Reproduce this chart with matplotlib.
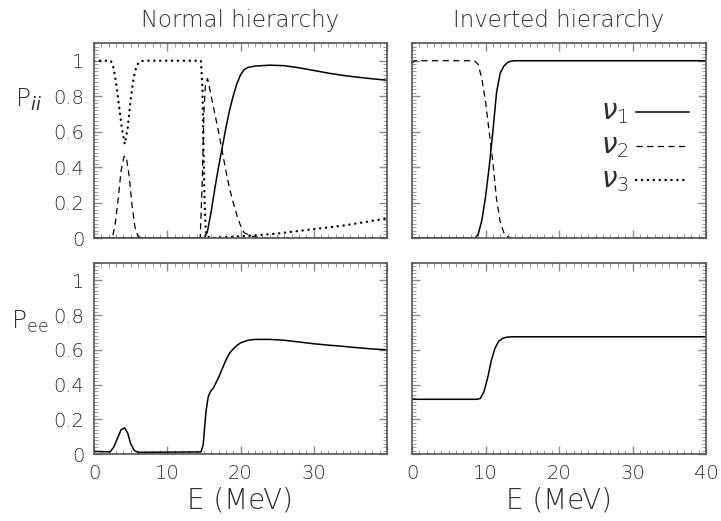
import matplotlib

matplotlib.use("Agg")
import matplotlib.pyplot as plt
from matplotlib.ticker import MultipleLocator, FixedLocator

# --- data (E in MeV) ---
nh_nu1_e = [0, 15.1, 15.5, 16.0, 16.5, 17.0, 17.5, 18.0, 18.5, 19.0, 19.5, 20.0, 20.5, 21.0,
            22, 24, 26, 28, 30, 32, 34, 36, 38, 40]
nh_nu1_p = [0, 0, 0.04, 0.15, 0.28, 0.40, 0.51, 0.62, 0.72, 0.80, 0.87, 0.92, 0.95, 0.962,
            0.97, 0.975, 0.972, 0.96, 0.945, 0.93, 0.917, 0.907, 0.898, 0.89]

nh_nu2_e = [0, 2.5, 2.9, 3.3, 3.7, 4.1, 4.4, 4.8, 5.2, 5.6, 6.0, 6.5,
            14.5, 14.8, 15.0, 15.2, 15.5, 16.0, 16.5, 17.0, 17.5, 18.0, 18.5, 19.0,
            19.5, 20.0, 20.5, 21.5, 23, 40]
nh_nu2_p = [0, 0, 0.08, 0.22, 0.38, 0.46, 0.46, 0.35, 0.18, 0.06, 0.01, 0,
            0, 0.35, 0.7, 0.86, 0.9, 0.8, 0.7, 0.6, 0.49, 0.38, 0.28, 0.2,
            0.13, 0.07, 0.03, 0.01, 0, 0]

nh_nu3_e = [0, 2.3, 2.6, 3.0, 3.4, 3.8, 4.2, 4.6, 5.0, 5.4, 5.8, 6.2, 6.8, 8, 12,
            14.6, 14.8, 14.95, 15.1, 15.25, 15.4, 16, 18, 20, 22, 25, 28, 31, 34, 37, 40]
nh_nu3_p = [1, 1, 0.97, 0.88, 0.75, 0.62, 0.53, 0.62, 0.78, 0.9, 0.97, 0.995, 1, 1, 1,
            1, 0.85, 0.5, 0.2, 0.05, 0.01, 0.0, 0.005, 0.01, 0.015, 0.025, 0.04, 0.055,
            0.07, 0.09, 0.11]

ih_nu1_e = [0, 8.6, 9.0, 9.5, 10.0, 10.5, 11.0, 11.5, 12.0, 12.5, 13.0, 13.5, 14, 40]
ih_nu1_p = [0, 0, 0.02, 0.1, 0.23, 0.40, 0.6, 0.82, 0.93, 0.97, 0.99, 0.998, 1, 1]

ih_nu2_e = [0, 0.3, 8.5, 9.0, 9.5, 10.0, 10.5, 11.0, 11.5, 12.0, 12.5, 13.0, 13.5, 40]
ih_nu2_p = [0.985, 1, 1, 0.98, 0.9, 0.77, 0.6, 0.43, 0.22, 0.09, 0.03, 0.008, 0, 0]

nh_pee_e = [0, 2.2, 2.7, 3.2, 3.7, 4.2, 4.6, 5.0, 5.5, 6.0, 7, 14.6, 14.9, 15.1, 15.3,
            15.6, 15.9, 16.3, 17.0, 17.5, 18.0, 18.5, 19.0, 19.5, 20.0, 21.0, 22, 24,
            26, 28, 30, 32, 34, 36, 38, 40]
nh_pee_p = [0.015, 0.012, 0.04, 0.09, 0.14, 0.15, 0.12, 0.06, 0.02, 0.01, 0.01, 0.012,
            0.05, 0.15, 0.25, 0.33, 0.36, 0.38, 0.44, 0.49, 0.54, 0.58, 0.605, 0.625,
            0.64, 0.655, 0.66, 0.66, 0.655, 0.645, 0.635, 0.627, 0.62, 0.612, 0.605, 0.60]

ih_pee_e = [0, 8.8, 9.3, 9.8, 10.3, 10.8, 11.3, 11.8, 12.3, 12.8, 13.5, 40]
ih_pee_p = [0.315, 0.315, 0.32, 0.36, 0.44, 0.54, 0.61, 0.65, 0.665, 0.672, 0.675, 0.675]

x_ticks = [0, 10, 20, 30, 40]
y_ticks = [0, 0.2, 0.4, 0.6, 0.8, 1]
y_tick_labels = ["0", "0.2", "0.4", "0.6", "0.8", "1"]

TEXT = "#2e2e2e"
plt.rcParams["font.family"] = ["DejaVu Sans"]
plt.rcParams["font.weight"] = "light"
plt.rcParams["mathtext.fontset"] = "dejavusans"

SOLID = dict(color="black", linewidth=1.1, linestyle="-")
DASHED = dict(color="black", linewidth=0.9, linestyle=(0, (5, 3.5)))
DOTTED = dict(color="black", linewidth=1.7, linestyle=(0, (0.1, 2.4)), dash_capstyle="round")


def style_axes(ax, xlabels=True, ylabels=True, last_x=True):
    ax.set_xlim(0, 40)
    ax.set_ylim(0, 1.1)
    ax.xaxis.set_major_locator(FixedLocator(x_ticks))
    ax.xaxis.set_minor_locator(MultipleLocator(1))
    ax.yaxis.set_major_locator(FixedLocator(y_ticks))
    ax.yaxis.set_minor_locator(MultipleLocator(0.02))
    ax.tick_params(which="both", direction="in", top=True, right=True, color="#8a8a8a",
                   labelcolor=TEXT, labelsize=14)
    ax.tick_params(which="major", length=6, width=1.0, pad=7)
    ax.tick_params(which="minor", length=3, width=0.6)
    for sp in ax.spines.values():
        sp.set_color("#555555")
        sp.set_linewidth(1.2)
    if ylabels:
        ax.set_yticklabels(y_tick_labels)
    else:
        ax.set_yticklabels([])
    if xlabels:
        labels = [str(t) for t in x_ticks]
        if not last_x:
            labels[-1] = ""
        ax.set_xticklabels(labels)
    else:
        ax.set_xticklabels([])


fig = plt.figure(figsize=(7.21, 5.21), dpi=100)
W, H = 721, 521


def box(x0, y0, x1, y1):
    return [x0 / W, 1 - y1 / H, (x1 - x0) / W, (y1 - y0) / H]


ax_nt = fig.add_axes(box(94, 43, 387, 238))
ax_it = fig.add_axes(box(412, 43, 706, 238))
ax_nb = fig.add_axes(box(94, 263, 387, 454))
ax_ib = fig.add_axes(box(412, 263, 706, 454))

ax_nt.plot(nh_nu1_e, nh_nu1_p, **SOLID)
ax_nt.plot(nh_nu2_e, nh_nu2_p, **DASHED)
ax_nt.plot(nh_nu3_e, nh_nu3_p, **DOTTED)

ax_it.plot(ih_nu1_e, ih_nu1_p, **SOLID)
ax_it.plot(ih_nu2_e, ih_nu2_p, **DASHED)

ax_nb.plot(nh_pee_e, nh_pee_p, **SOLID)
ax_ib.plot(ih_pee_e, ih_pee_p, **SOLID)

style_axes(ax_nt, xlabels=False)
style_axes(ax_it, xlabels=False, ylabels=False)
style_axes(ax_nb, last_x=False)
style_axes(ax_ib, ylabels=False)

# legend drawn by hand inside the inverted-hierarchy panel
legend_items = [(r"$\nu_1$", SOLID, 0.71), (r"$\nu_2$", DASHED, 0.52), (r"$\nu_3$", DOTTED, 0.33)]
for label, style, yv in legend_items:
    ax_it.text(29.5, yv, label, fontsize=20, color=TEXT, ha="right", va="center")
    ax_it.plot([30.5, 37.7], [yv, yv], **style)

fig.text(240 / W, 1 - 20 / H, "Normal hierarchy", ha="center", va="center", fontsize=16.5, color=TEXT)
fig.text(559 / W, 1 - 20 / H, "Inverted hierarchy", ha="center", va="center", fontsize=16.5, color=TEXT)
fig.text(240 / W, 1 - 500 / H, "E (MeV)", ha="center", va="center", fontsize=20, color=TEXT)
fig.text(559 / W, 1 - 500 / H, "E (MeV)", ha="center", va="center", fontsize=20, color=TEXT)
fig.text(28 / W, 1 - 100 / H, r"P$_{\mathit{ii}}$", ha="center", va="center", fontsize=18, color=TEXT)
fig.text(30 / W, 1 - 322 / H, r"P$_{\rm ee}$", ha="center", va="center", fontsize=18, color=TEXT)

fig.savefig("out.png", dpi=100)
